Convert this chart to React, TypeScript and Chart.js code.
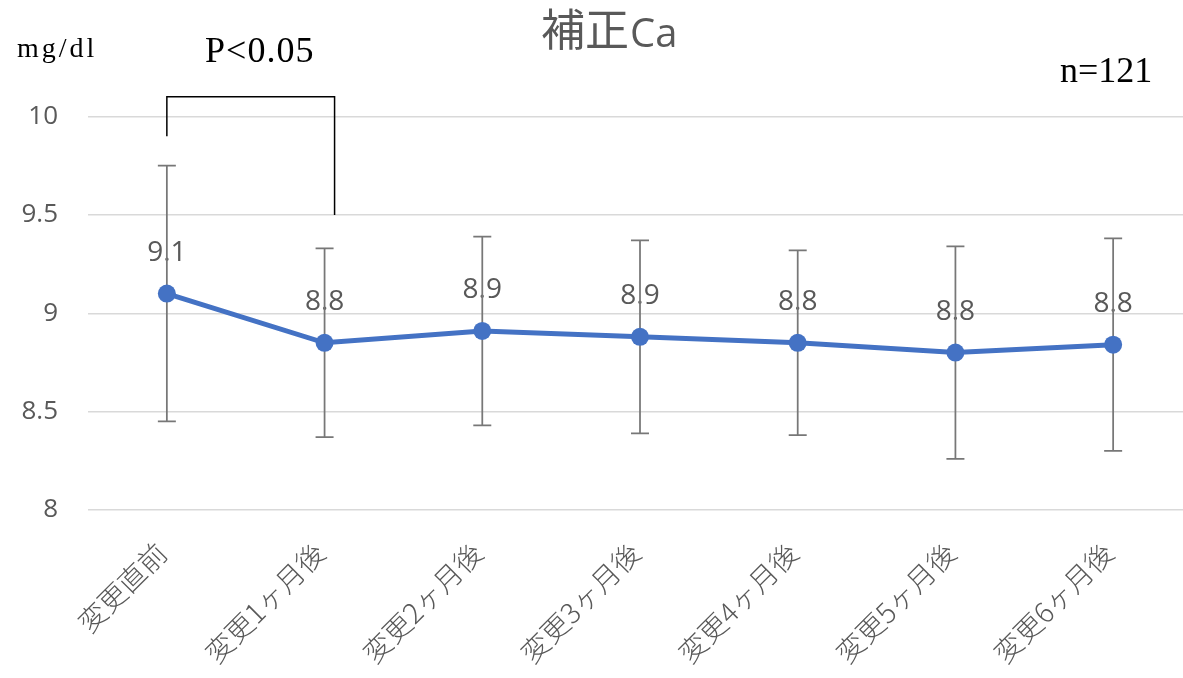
import React, { useEffect, useRef } from "react";
import { Chart, registerables } from "chart.js";

Chart.register(...registerables);

// Corrected calcium: mean and SD at each checkpoint
const categories = [
  "変更直前",
  "変更1ヶ月後",
  "変更2ヶ月後",
  "変更3ヶ月後",
  "変更4ヶ月後",
  "変更5ヶ月後",
  "変更6ヶ月後",
];
const means = [9.1, 8.85, 8.91, 8.88, 8.85, 8.8, 8.84];
const sds = [0.65, 0.48, 0.48, 0.49, 0.47, 0.54, 0.54];

const yMin = 8;
const yMax = 10;
const yStep = 0.5;

const titleMain = "補正";
const titleSuffix = "Ca";
const unitLabel = "mg/dl";
const sampleLabel = "n=121";
const sigLabel = "P<0.05";
// significance bracket: compared categories and the bracket's y levels (left foot, top, right foot)
const sigPair = [0, 1];
const sigLevels = [9.9, 10.1, 9.5];

const LINE_BLUE = "#4472C4";
const TEXT_GRAY = "#595959";

// the plot runs a little past the right edge of the visible page
const CANVAS_W = 1192;
const CANVAS_H = 678;

const overlay = {
  id: "overlay",
  beforeDatasetsDraw(chart: any) {
    const { ctx } = chart;
    const x = chart.scales.x;
    const y = chart.scales.y;
    ctx.save();
    // value labels above each point
    ctx.font = "28px 'Open Sans'";
    ctx.fillStyle = TEXT_GRAY;
    ctx.textAlign = "center";
    ctx.textBaseline = "middle";
    means.forEach((m, i) => {
      ctx.fillText(m.toFixed(1), x.getPixelForValue(i), y.getPixelForValue(m) - 41);
    });
    // SD error bars
    ctx.strokeStyle = "#777777";
    ctx.lineWidth = 1.75;
    means.forEach((m, i) => {
      const px = x.getPixelForValue(i);
      const top = y.getPixelForValue(m + sds[i]);
      const bot = y.getPixelForValue(m - sds[i]);
      ctx.beginPath();
      ctx.moveTo(px, top);
      ctx.lineTo(px, bot);
      ctx.moveTo(px - 9, top);
      ctx.lineTo(px + 9, top);
      ctx.moveTo(px - 9, bot);
      ctx.lineTo(px + 9, bot);
      ctx.stroke();
    });
    ctx.restore();
  },
  afterDraw(chart: any) {
    const { ctx } = chart;
    const x = chart.scales.x;
    const y = chart.scales.y;
    ctx.save();

    // title
    ctx.fillStyle = TEXT_GRAY;
    ctx.textBaseline = "alphabetic";
    ctx.textAlign = "left";
    ctx.font = "44px 'Noto Sans CJK JP'";
    ctx.fillText(titleMain, 541, 46);
    const w = ctx.measureText(titleMain).width;
    ctx.font = "40px 'Open Sans'";
    ctx.fillText(titleSuffix, 541 + w + 1, 47);

    // unit, sample size and significance text
    ctx.fillStyle = "#000";
    ctx.font = "28px 'Liberation Serif'";
    (ctx as any).letterSpacing = "3px";
    ctx.fillText(unitLabel, 17, 57);
    (ctx as any).letterSpacing = "0px";

    ctx.font = "36px 'Liberation Serif'";
    ctx.fillText(sampleLabel, 1060, 82);

    const x0 = x.getPixelForValue(sigPair[0]);
    const x1 = x.getPixelForValue(sigPair[1]) + 10;
    ctx.textAlign = "center";
    (ctx as any).letterSpacing = "1px";
    ctx.fillText(sigLabel, (x0 + x1) / 2 + 9, 62);
    (ctx as any).letterSpacing = "0px";

    // significance bracket
    ctx.strokeStyle = "#000";
    ctx.lineWidth = 1.5;
    ctx.beginPath();
    ctx.moveTo(x0, y.getPixelForValue(sigLevels[0]));
    ctx.lineTo(x0, y.getPixelForValue(sigLevels[1]));
    ctx.lineTo(x1, y.getPixelForValue(sigLevels[1]));
    ctx.lineTo(x1, y.getPixelForValue(sigLevels[2]));
    ctx.stroke();

    ctx.restore();
  },
};

export default function App() {
  const ref = useRef<HTMLCanvasElement>(null);

  useEffect(() => {
    document.documentElement.style.overflow = "hidden";
    document.body.style.margin = "0";
    document.body.style.overflow = "hidden";
    const chart = new Chart(ref.current!, {
      type: "line",
      data: {
        labels: categories,
        datasets: [
          {
            data: means,
            borderColor: LINE_BLUE,
            backgroundColor: LINE_BLUE,
            borderWidth: 5,
            pointRadius: 9,
            pointBackgroundColor: LINE_BLUE,
            pointBorderColor: LINE_BLUE,
            pointBorderWidth: 0,
            tension: 0,
          },
        ],
      },
      options: {
        responsive: false,
        animation: false,
        devicePixelRatio: 1,
        layout: {
          autoPadding: false,
          padding: { top: 116.5, left: 0, right: 0, bottom: 0 },
        },
        plugins: {
          legend: { display: false },
          tooltip: { enabled: false },
          title: { display: false },
        },
        scales: {
          x: {
            type: "category",
            offset: true,
            grid: { display: false },
            border: { display: false },
            ticks: {
              autoSkip: false,
              minRotation: 45,
              maxRotation: 45,
              color: TEXT_GRAY,
              font: { family: "'Noto Sans CJK JP'", size: 28, weight: "300" },
              padding: 18,
              labelOffset: -5,
            },
            afterFit(scale: any) {
              scale.height = 168;
              scale.paddingLeft = 0;
              scale.paddingRight = 0;
            },
          },
          y: {
            min: yMin,
            max: yMax,
            grid: { color: "#d9d9d9", lineWidth: 1.5, drawTicks: false },
            border: { display: false },
            ticks: {
              stepSize: yStep,
              color: TEXT_GRAY,
              font: { family: "'Open Sans'", size: 26 },
              padding: 30,
              callback: (v: any) => String(Number(v)),
            },
            afterFit(scale: any) {
              scale.width = 88;
            },
          },
        },
      },
      plugins: [overlay],
    });
    return () => chart.destroy();
  }, []);

  return (
    <div
      style={{
        position: "fixed",
        left: 0,
        top: 0,
        width: CANVAS_W,
        height: CANVAS_H,
        overflow: "hidden",
        background: "#fff",
      }}
    >
      <canvas
        ref={ref}
        width={CANVAS_W}
        height={CANVAS_H}
        style={{ width: CANVAS_W, height: CANVAS_H, display: "block" }}
      />
    </div>
  );
}
